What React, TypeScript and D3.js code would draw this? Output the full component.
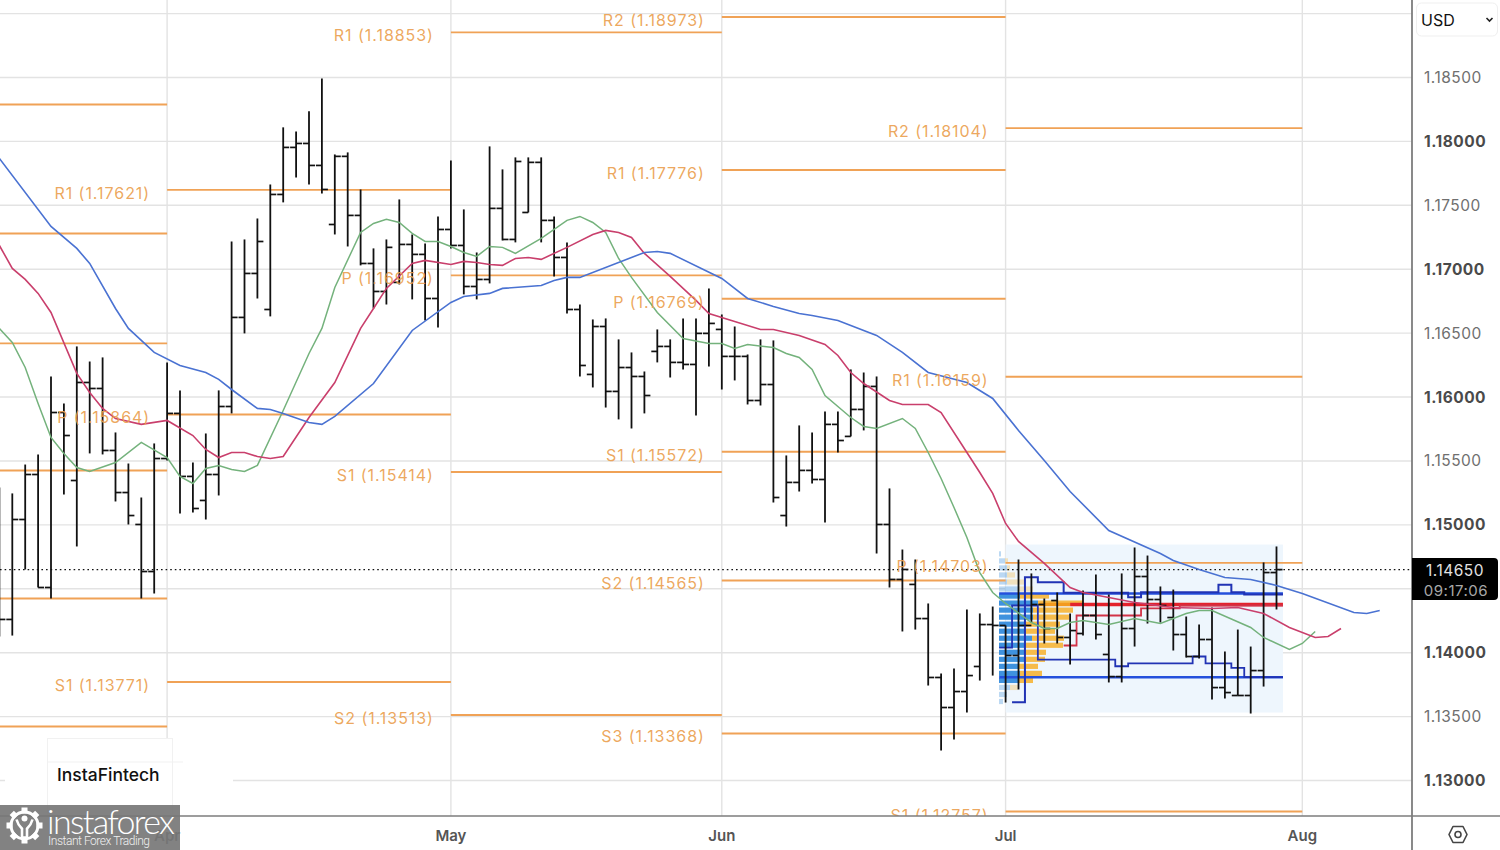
import React from 'react';
import * as d3 from 'd3';

// bar index 0 is the first (partly cut) bar at the left edge
const opens = [
  1.14721, 1.1426, 1.15042, 1.15394, 1.1451, 1.15879, 1.15347, 1.16114, 1.16067, 1.15582,
  1.15253, 1.15003, 1.14635, 1.15519, 1.15872, 1.15379, 1.15191, 1.15394, 1.15926, 1.16623,
  1.16967, 1.16685, 1.17585, 1.17953, 1.17984, 1.17812, 1.1735, 1.17883, 1.17421, 1.17045,
  1.16826, 1.16897, 1.17194, 1.17116, 1.16771, 1.17311, 1.17186, 1.16865, 1.1692, 1.17476,
  1.17233, 1.17444, 1.17836, 1.17382, 1.17092, 1.16685, 1.16177, 1.16552, 1.16044, 1.16231,
  1.16161, 1.16357, 1.16396, 1.16271, 1.16255, 1.16498, 1.16529, 1.16318, 1.16318, 1.15973,
  1.16098, 1.15073, 1.15332, 1.15426, 1.15355, 1.15786, 1.15692, 1.15903, 1.16083, 1.15003,
  1.14573, 1.14534, 1.14267, 1.13806, 1.13571, 1.13696, 1.13892, 1.1422, 1.14213, 1.13978,
  1.14213, 1.14377, 1.14408, 1.14119, 1.1415, 1.14291, 1.13986, 1.13813, 1.14189, 1.14596,
  1.14416, 1.14275, 1.14142, 1.1397, 1.14103, 1.13727, 1.13665, 1.13665, 1.1386, 1.14627,
];
const highs = [
  1.15293, 1.15246, 1.15472, 1.15551, 1.16161, 1.1595, 1.16396, 1.16278, 1.1631, 1.15723,
  1.1548, 1.15214, 1.15637, 1.16271, 1.16052, 1.15488, 1.15715, 1.16052, 1.17217, 1.17233,
  1.17397, 1.17663, 1.1811, 1.18078, 1.18235, 1.18493, 1.17898, 1.17914, 1.17624, 1.17163,
  1.17233, 1.17546, 1.17272, 1.17202, 1.17413, 1.17851, 1.17468, 1.17131, 1.17961, 1.17781,
  1.17875, 1.17875, 1.17875, 1.17413, 1.1721, 1.16724, 1.16607, 1.16615, 1.16451, 1.16349,
  1.162, 1.16529, 1.16451, 1.16615, 1.16615, 1.1685, 1.16646, 1.16552, 1.16333, 1.16451,
  1.16443, 1.15543, 1.15778, 1.15723, 1.15887, 1.15887, 1.16216, 1.16192, 1.16161, 1.15285,
  1.14807, 1.14729, 1.14385, 1.13837, 1.13876, 1.14338, 1.14307, 1.14361, 1.14213, 1.14729,
  1.1462, 1.14424, 1.14471, 1.14307, 1.14486, 1.14612, 1.14455, 1.1462, 1.14823, 1.1476,
  1.14518, 1.14494, 1.14283, 1.1422, 1.14353, 1.14009, 1.14181, 1.14048, 1.14706, 1.14831,
];
const lows = [
  1.14127, 1.14134, 1.14651, 1.1451, 1.14424, 1.15238, 1.14831, 1.15559, 1.15551, 1.15183,
  1.15003, 1.14424, 1.14463, 1.15504, 1.15089, 1.15097, 1.15042, 1.1523, 1.15872, 1.16498,
  1.16771, 1.16631, 1.17523, 1.17718, 1.17663, 1.17593, 1.17272, 1.17178, 1.1703, 1.16693,
  1.16724, 1.16881, 1.16764, 1.16599, 1.16544, 1.17163, 1.16803, 1.16764, 1.16889, 1.17225,
  1.1721, 1.17444, 1.1721, 1.16944, 1.16654, 1.16161, 1.16075, 1.15918, 1.15825, 1.15754,
  1.15872, 1.16271, 1.16153, 1.16216, 1.15856, 1.16239, 1.16059, 1.1613, 1.15942, 1.15934,
  1.15175, 1.14987, 1.15261, 1.15324, 1.15019, 1.15566, 1.15692, 1.15739, 1.14776, 1.1451,
  1.14166, 1.14181, 1.13743, 1.13234, 1.13321, 1.13532, 1.13782, 1.13821, 1.1361, 1.13712,
  1.14236, 1.14072, 1.14072, 1.13907, 1.14134, 1.14103, 1.13767, 1.13767, 1.14048, 1.14228,
  1.14236, 1.14017, 1.13962, 1.13954, 1.13634, 1.13641, 1.13665, 1.13524, 1.13735, 1.14338,
];
const closes = [
  1.1426, 1.15042, 1.15394, 1.1451, 1.15879, 1.15699, 1.16114, 1.16067, 1.15582, 1.15253,
  1.15073, 1.14635, 1.15519, 1.15872, 1.15379, 1.15128, 1.15394, 1.15926, 1.16623, 1.16967,
  1.17217, 1.17585, 1.17953, 1.17984, 1.17812, 1.17624, 1.17883, 1.17421, 1.17045, 1.16826,
  1.17171, 1.17194, 1.17116, 1.16771, 1.17311, 1.17186, 1.16865, 1.1692, 1.17476, 1.17233,
  1.17843, 1.17836, 1.17382, 1.17092, 1.16685, 1.16247, 1.16552, 1.16044, 1.16231, 1.16161,
  1.16012, 1.16396, 1.16271, 1.16255, 1.16498, 1.16576, 1.16318, 1.16318, 1.15973, 1.16098,
  1.15214, 1.15332, 1.15426, 1.15355, 1.15786, 1.1566, 1.15903, 1.16083, 1.15003, 1.14573,
  1.14651, 1.14267, 1.13806, 1.13571, 1.13696, 1.13821, 1.1422, 1.14213, 1.13978, 1.14213,
  1.14377, 1.14189, 1.14119, 1.14173, 1.14291, 1.14142, 1.13813, 1.14189, 1.14596, 1.14416,
  1.14369, 1.14142, 1.1397, 1.14103, 1.13727, 1.13688, 1.13665, 1.1386, 1.14627, 1.1465,
];

// moving averages: [bar index, price] at the corners
const blueLine: [number, number][] = [
  [0, 1.17867], [4, 1.17335], [6, 1.17163], [7, 1.17045], [9, 1.16693], [10, 1.16537], [12, 1.16349],
  [14, 1.16247], [16, 1.16192], [17, 1.16138], [18, 1.16059], [20, 1.15911], [21, 1.15903], [22, 1.15872],
  [24, 1.15801], [25, 1.15786], [26, 1.15848], [29, 1.16106], [32, 1.16521], [35, 1.1674], [36, 1.16787],
  [38, 1.16811], [39, 1.1685], [42, 1.16873], [43, 1.16912], [44, 1.16936], [45, 1.16936], [50, 1.17131],
  [51, 1.17139], [52, 1.17124], [56, 1.16928], [58, 1.16771], [60, 1.16709], [62, 1.16654], [63, 1.16638],
  [65, 1.16599], [66, 1.1656], [68, 1.16482], [70, 1.16349], [72, 1.16192], [75, 1.16114], [77, 1.15989],
  [79, 1.15739], [81, 1.15504], [83, 1.15261], [86, 1.14956], [90, 1.14776], [91, 1.14721], [93, 1.14651],
  [95, 1.14588], [97, 1.14573], [99, 1.14526], [101, 1.14463], [105, 1.14314], [106, 1.14307], [107, 1.1433],
];
const redLine: [number, number][] = [
  [0, 1.17186], [1, 1.17006], [2, 1.1692], [3, 1.16811], [4, 1.16662], [6, 1.16185], [7, 1.16036], [8, 1.15911],
  [9, 1.15832], [11, 1.15786], [13, 1.15817], [15, 1.15699], [16, 1.1559], [17, 1.15527], [18, 1.15566],
  [19, 1.15566], [20, 1.15535], [21, 1.15519], [22, 1.15535], [24, 1.1584], [26, 1.16114], [28, 1.16537],
  [29, 1.16693], [30, 1.1685], [32, 1.17045], [33, 1.17069], [35, 1.17037], [36, 1.17061], [37, 1.17053],
  [38, 1.17037], [39, 1.1703], [40, 1.17084], [41, 1.17092], [42, 1.17077], [44, 1.17171], [46, 1.17272],
  [47, 1.17304], [48, 1.17288], [49, 1.17249], [50, 1.17124], [52, 1.16944], [54, 1.16756], [55, 1.16654],
  [57, 1.16591], [59, 1.16529], [60, 1.16529], [62, 1.16482], [64, 1.16411], [65, 1.16325], [66, 1.16192],
  [67, 1.16106], [69, 1.15973], [70, 1.15942], [72, 1.15942], [73, 1.15879], [75, 1.15566], [76, 1.1541],
  [77, 1.15246], [78, 1.15011], [79, 1.1487], [81, 1.14698], [83, 1.1451], [84, 1.14471], [88, 1.14393],
  [91, 1.14353], [94, 1.14346], [96, 1.14353], [98, 1.14307], [100, 1.14197], [102, 1.14119], [103, 1.14127],
  [104, 1.14189],
];
const greenLine: [number, number][] = [
  [0, 1.16537], [1, 1.16427], [2, 1.16231], [3, 1.1595], [4, 1.15684], [5, 1.15559], [6, 1.15449], [7, 1.15418],
  [9, 1.15488], [11, 1.15645], [13, 1.15527], [14, 1.15379], [15, 1.15324], [16, 1.15441], [17, 1.15465],
  [18, 1.15433], [19, 1.15418], [20, 1.15465], [22, 1.15895], [24, 1.16341], [25, 1.16537], [26, 1.16857],
  [28, 1.17288], [29, 1.17358], [30, 1.1739], [31, 1.17366], [32, 1.1728], [33, 1.17217], [34, 1.17217],
  [35, 1.17178], [36, 1.17131], [37, 1.171], [38, 1.17178], [39, 1.17171], [40, 1.17124], [42, 1.17241],
  [44, 1.17382], [45, 1.17413], [46, 1.17366], [47, 1.17288], [48, 1.17084], [49, 1.16936], [51, 1.16662],
  [53, 1.16458], [55, 1.16419], [56, 1.16419], [57, 1.1638], [58, 1.16411], [60, 1.16388], [61, 1.16341],
  [62, 1.1631], [63, 1.16216], [64, 1.16012], [66, 1.1584], [67, 1.1577], [68, 1.15754], [70, 1.15832],
  [71, 1.15754], [72, 1.15566], [73, 1.15363], [74, 1.15136], [75, 1.14901], [76, 1.14627], [77, 1.14471],
  [78, 1.14385], [80, 1.14236], [81, 1.14189], [82, 1.14189], [83, 1.14236], [84, 1.14252], [86, 1.1422],
  [88, 1.14267], [90, 1.14228], [92, 1.14307], [93, 1.1433], [94, 1.1433], [97, 1.14197], [98, 1.14119],
  [100, 1.14025], [101, 1.14072], [102, 1.14166],
];

// month ticks and the monthly pivot levels that start on them
const monthNames = ['Apr', 'May', 'Jun', 'Jul', 'Aug'];
const monthBars = [13, 35, 56, 78, 101];
const marchPivots = [1.18289, 1.1728, 1.1642, 1.15425, 1.14424, 1.13422];
const aprilPivots: [string, number][] = [['R1', 1.17621], ['P', 1.15864], ['S1', 1.13771]];
const mayPivots: [string, number][] = [['R1', 1.18853], ['P', 1.16952], ['S1', 1.15414], ['S2', 1.13513]];
const junePivots: [string, number][] = [['R2', 1.18973], ['R1', 1.17776], ['P', 1.16769], ['S1', 1.15572], ['S2', 1.14565], ['S3', 1.13368]];
const julyPivots: [string, number][] = [['R2', 1.18104], ['R1', 1.16159], ['P', 1.14703], ['S1', 1.12757]];

const priceTicks = [1.185, 1.18, 1.175, 1.17, 1.165, 1.16, 1.155, 1.15, 1.145, 1.14, 1.135, 1.13];
const gridLevels = [1.19, ...priceTicks];
const lastPrice = 1.1465;

// volume profile of July
const profilePrices = [
  1.14773, 1.14718, 1.14663, 1.14608, 1.14553, 1.14498, 1.14443, 1.14388, 1.14333, 1.14278, 1.14223,
  1.14168, 1.14113, 1.14058, 1.14003, 1.13948, 1.13893, 1.13838, 1.13783, 1.13728, 1.13673, 1.13618,
];
const profileBuy = [2, 6, 8, 8, 8, 20, 21, 39, 34, 34, 26, 25, 33, 26, 25, 25, 19, 21, 19, 11, 8, 4];
const profileSell = [0, 3, 3, 8, 17, 14, 29, 45, 40, 36, 35, 31, 32, 38, 22, 21, 20, 22, 15, 8, 0, 0];
const valueAreaRows = [6, 18];

const upperStep: [number, number][] = [
  [78.5, 1.13612], [79.5, 1.1459], [80.5, 1.14551], [82.5, 1.14468], [87.5, 1.14434], [88.5, 1.14473],
  [94.5, 1.14531], [95.5, 1.14473], [96.5, 1.14455], [99.5, 1.14455],
];
const lowerStep: [number, number][] = [
  [77.5, 1.1404], [78.5, 1.14369], [80.5, 1.13946], [86.5, 1.13894], [87.5, 1.13917], [92.5, 1.1397],
  [93.5, 1.13917], [95.5, 1.13881], [96.5, 1.13808], [99.5, 1.13808],
];
const pocStep: [number, number][] = [
  [82.5, 1.14056], [83.5, 1.14291], [88.5, 1.14346], [91.5, 1.14369], [99.5, 1.14369],
];
const rangeHigh = 1.14463;
const rangeLow = 1.13808;
const rangePoc = 1.14377;
const rangeTop = 1.14846;
const rangeBottom = 1.13532;

const W = 1500;
const H = 850;
const paneRight = 1412;
const paneBottom = 816;
const uiFont = 'Inter, "Noto Sans", sans-serif';
const pivotColor = '#f0a256';

const x = d3.scaleLinear().domain([0, 99]).range([-0.6, 1276.5]);
const y = d3.scaleLinear().domain([1.13, 1.185]).range([780.5, 77.5]);
const volX = d3.scaleLinear().domain([0, 84]).range([999, 1083]);

const maLine = d3.line<[number, number]>().x((d) => x(d[0])).y((d) => y(d[1]));
const stepLine = d3.line<[number, number]>().x((d) => x(d[0])).y((d) => y(d[1])).curve(d3.curveStepAfter);

const pivotSegments = [
  { from: 13, to: 35, levels: aprilPivots },
  { from: 35, to: 56, levels: mayPivots },
  { from: 56, to: 78, levels: junePivots },
  { from: 78, to: 101, levels: julyPivots },
];

const gearTeeth = d3.range(8).map((i) => (i * 360) / 8);

export default function App() {
  return (
    <svg width={W} height={H} style={{ position: 'absolute', left: 0, top: 0, background: '#fff' }}>
      <defs>
        <clipPath id="pane">
          <rect x={0} y={0} width={paneRight} height={paneBottom} />
        </clipPath>
      </defs>

      <g clipPath="url(#pane)">
        {/* grid */}
        {gridLevels.map((p) => (
          <line key={p} x1={0} x2={paneRight} y1={y(p)} y2={y(p)} stroke="#e3e3e3" strokeWidth={1.4} />
        ))}
        {monthBars.map((b) => (
          <line key={b} x1={x(b)} x2={x(b)} y1={0} y2={paneBottom} stroke="#e3e3e3" strokeWidth={1.4} />
        ))}

        {/* July range and volume profile */}
        <rect x={x(78)} y={y(rangeTop)} width={x(99.5) - x(78)} height={y(rangeBottom) - y(rangeTop)} fill="#eef6fd" />
        {profilePrices.map((p, i) => {
          const inside = i >= valueAreaRows[0] && i <= valueAreaRows[1];
          return (
            <g key={p} opacity={inside ? 1 : 0.35}>
              <rect x={volX(0)} y={y(p) - 2.6} width={volX(profileBuy[i]) - volX(0)} height={5.2} fill="#3f92de" />
              <rect x={volX(profileBuy[i])} y={y(p) - 2.6} width={volX(profileSell[i]) - volX(0)} height={5.2} fill="#f6bb4a" />
            </g>
          );
        })}
        <line x1={x(83)} x2={x(99.5)} y1={y(rangePoc)} y2={y(rangePoc)} stroke="#e3222c" strokeWidth={3.5} />
        <line x1={volX(40)} x2={x(83)} y1={y(rangePoc)} y2={y(rangePoc)} stroke="#f39a1f" strokeWidth={3.5} />
        <line x1={x(77.5)} x2={x(99.5)} y1={y(rangeHigh)} y2={y(rangeHigh)} stroke="#2450dc" strokeWidth={2.4} />
        <line x1={x(77.5)} x2={x(99.5)} y1={y(rangeLow)} y2={y(rangeLow)} stroke="#2450dc" strokeWidth={2.4} />
        <path d={stepLine(upperStep) ?? ''} fill="none" stroke="#2133b4" strokeWidth={2} />
        <path d={stepLine(lowerStep) ?? ''} fill="none" stroke="#2133b4" strokeWidth={1.8} />
        <path d={stepLine(pocStep) ?? ''} fill="none" stroke="#d23348" strokeWidth={1.8} />

        {/* pivot lines */}
        {marchPivots.map((p) => (
          <line key={p} x1={0} x2={x(13)} y1={y(p)} y2={y(p)} stroke={pivotColor} strokeWidth={1.9} />
        ))}
        {pivotSegments.map((s) =>
          s.levels.map(([, p]) => (
            <line key={p} x1={x(s.from)} x2={x(s.to)} y1={y(p)} y2={y(p)} stroke={pivotColor} strokeWidth={1.9} />
          )),
        )}

        {/* last price */}
        <line x1={0} x2={paneRight} y1={y(lastPrice)} y2={y(lastPrice)} stroke="#111" strokeWidth={1.3} strokeDasharray="1.6 3" />

        {/* OHLC bars */}
        {opens.map((o, i) => (
          <g key={i} stroke="#111">
            <line x1={x(i)} x2={x(i)} y1={y(highs[i])} y2={y(lows[i])} strokeWidth={1.8} />
            <line x1={x(i) - 6} x2={x(i)} y1={y(o)} y2={y(o)} strokeWidth={1.7} />
            <line x1={x(i)} x2={x(i) + 6} y1={y(closes[i])} y2={y(closes[i])} strokeWidth={1.7} />
          </g>
        ))}

        {/* moving averages */}
        <path d={maLine(greenLine) ?? ''} fill="none" stroke="#74b27c" strokeWidth={1.5} />
        <path d={maLine(redLine) ?? ''} fill="none" stroke="#c93f6c" strokeWidth={1.6} />
        <path d={maLine(blueLine) ?? ''} fill="none" stroke="#4a72d2" strokeWidth={1.6} />

        {/* pivot labels */}
        {pivotSegments.map((s) =>
          s.levels.map(([name, p]) => (
            <text
              key={name + p}
              x={x(s.from) - 17}
              y={y(p) + 3}
              textAnchor="end"
              dominantBaseline="central"
              fontFamily={uiFont}
              fontSize={16}
              letterSpacing={0.95}
              fill="#eb9f50"
              fillOpacity={0.92}
            >
              {`${name} (${p.toFixed(5)})`}
            </text>
          )),
        )}
      </g>

      {/* logo patch of the chart */}
      <rect x={5} y={768} width={228} height={30} fill="#fff" />
      <rect x={47.5} y={738.5} width={125} height={77} fill="#fff" stroke="#f1f1f1" />
      <line x1={47.5} x2={183} y1={762} y2={762} stroke="#f1f1f1" />
      <text x={57} y={781} fontFamily={uiFont} fontSize={17.5} fontWeight={500} fill="#111">
        InstaFintech
      </text>

      {/* axes */}
      <line x1={0} x2={W} y1={paneBottom} y2={paneBottom} stroke="#7d7d7d" strokeWidth={1.5} />
      <line x1={paneRight} x2={paneRight} y1={0} y2={H} stroke="#7d7d7d" strokeWidth={1.8} />
      {monthNames.map((m, i) => (
        <text
          key={m}
          x={x(monthBars[i])}
          y={835}
          textAnchor="middle"
          dominantBaseline="central"
          fontFamily={uiFont}
          fontSize={15}
          fontWeight={600}
          fill="#555"
        >
          {m}
        </text>
      ))}
      {priceTicks.map((p) => {
        const major = Math.round(p * 1000) % 10 === 0;
        return (
          <text
            key={p}
            x={1424}
            y={y(p)}
            dominantBaseline="central"
            fontFamily={uiFont}
            fontSize={15.5}
            letterSpacing={0.5}
            fontWeight={major ? 700 : 400}
            fill={major ? '#4a4a4a' : '#6f6f6f'}
          >
            {p.toFixed(5)}
          </text>
        );
      })}

      {/* price tag */}
      <path d="M1412,558 H1494 a4,4 0 0 1 4,4 V596 a4,4 0 0 1 -4,4 H1412 Z" fill="#000" />
      <text x={1455} y={570} textAnchor="middle" dominantBaseline="central" fontFamily={uiFont} fontSize={15.5} letterSpacing={0.5} fill="#e2e2e2">
        {lastPrice.toFixed(5)}
      </text>
      <text x={1456} y={590} textAnchor="middle" dominantBaseline="central" fontFamily={uiFont} fontSize={15} letterSpacing={0.5} fill="#a8a8a8">
        09:17:06
      </text>

      {/* currency select */}
      <rect x={1416.5} y={3} width={81} height={33} rx={5} fill="#fff" stroke="#efefef" />
      <text x={1421} y={19.5} dominantBaseline="central" fontFamily={uiFont} fontSize={16} fill="#111">
        USD
      </text>
      <path d="M1486.5,18 l3,3 l3,-3" fill="none" stroke="#222" strokeWidth={1.6} />

      {/* settings icon */}
      <path d="M1449,834.5 l4,-8 h10 l4,8 l-4,8 h-10 Z" fill="none" stroke="#444" strokeWidth={1.6} strokeLinejoin="round" />
      <circle cx={1458} cy={834.5} r={3} fill="none" stroke="#444" strokeWidth={1.6} />

      {/* instaforex watermark */}
      <rect x={0} y={805} width={180} height={45} fill="#777" fillOpacity={0.92} />
      <g transform="translate(24.5,825.5)" fill="#fff" stroke="#fff">
        {gearTeeth.map((a) => (
          <rect key={a} x={-3} y={-18} width={6} height={6} stroke="none" transform={`rotate(${a})`} />
        ))}
        <circle r={13.5} fill="none" strokeWidth={3} />
        <circle cx={0} cy={-7} r={3} stroke="none" />
        <path d="M-8,-6 C-6,1 -3,2 -2.5,3 V12 H2.5 V3 C3,2 6,1 8,-6" fill="none" strokeWidth={2.6} />
      </g>
      <text x={47} y={834} fontFamily="Lato, sans-serif" fontWeight={300} fontSize={34} textLength={128} fill="#fff">
        instaforex
      </text>
      <text x={48} y={845} fontFamily="Roboto, sans-serif" fontWeight={300} fontSize={12} textLength={102} fill="#f0f0f0">
        Instant Forex Trading
      </text>
    </svg>
  );
}
